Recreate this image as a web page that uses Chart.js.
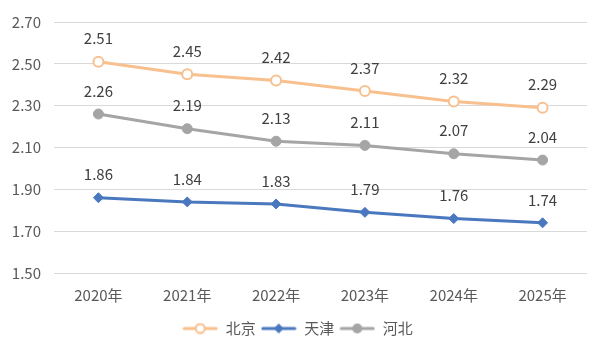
<!DOCTYPE html>
<html>
<head>
<meta charset="utf-8">
<script src="https://cdn.jsdelivr.net/npm/chart.js@4/dist/chart.umd.min.js"></script>
<style>
  html, body { margin: 0; padding: 0; background: #fff; }
  #wrap { width: 606px; height: 358px; }
</style>
</head>
<body>
<div id="wrap"><canvas id="lineChart"></canvas></div>
<script>
// data
const years = ['2020年', '2021年', '2022年', '2023年', '2024年', '2025年'];
const beijing = [2.51, 2.45, 2.42, 2.37, 2.32, 2.29];
const tianjin = [1.86, 1.84, 1.83, 1.79, 1.76, 1.74];
const hebei = [2.26, 2.19, 2.13, 2.11, 2.07, 2.04];
const yTicks = [1.50, 1.70, 1.90, 2.10, 2.30, 2.50, 2.70];

const fontFamily = "'Noto Sans CJK SC', 'Liberation Sans', sans-serif";

// small legend picture: a line with the marker in the middle
function legendIcon(color, kind) {
    const c = document.createElement('canvas');
    c.width = 36;
    c.height = 12;
    const g = c.getContext('2d');
    g.strokeStyle = color;
    g.lineWidth = 3;
    g.lineCap = 'round';
    g.beginPath();
    g.moveTo(2, 6);
    g.lineTo(34, 6);
    g.stroke();
    if (kind === 'open') {
        g.fillStyle = '#fff';
        g.lineWidth = 2;
        g.beginPath();
        g.arc(18, 6, 4.5, 0, Math.PI * 2);
        g.fill();
        g.stroke();
    } else if (kind === 'diamond') {
        g.fillStyle = color;
        g.beginPath();
        g.moveTo(18, 1);
        g.lineTo(23, 6);
        g.lineTo(18, 11);
        g.lineTo(13, 6);
        g.closePath();
        g.fill();
    } else {
        g.fillStyle = color;
        g.beginPath();
        g.arc(18, 6, 5, 0, Math.PI * 2);
        g.fill();
    }
    return c;
}

const icons = [
    legendIcon('#F8C08E', 'open'),
    legendIcon('#4A78BE', 'diamond'),
    legendIcon('#A5A5A5', 'dot')
];

// numbers above each point
const valueLabels = {
    id: 'valueLabels',
    afterDatasetsDraw(chart) {
        const ctx = chart.ctx;
        ctx.save();
        ctx.font = '15px ' + fontFamily;
        ctx.fillStyle = '#404040';
        ctx.textAlign = 'center';
        ctx.textBaseline = 'middle';
        chart.data.datasets.forEach((ds, i) => {
            chart.getDatasetMeta(i).data.forEach((pt, j) => {
                ctx.fillText(ds.data[j].toFixed(2), pt.x, pt.y - 23);
            });
        });
        ctx.restore();
    }
};

new Chart(document.getElementById('lineChart'), {
    type: 'line',
    data: {
        labels: years,
        datasets: [
            {
                label: '北京',
                data: beijing,
                borderColor: '#F8C08E',
                backgroundColor: '#fff',
                borderWidth: 3,
                pointStyle: 'circle',
                pointRadius: 5,
                pointBorderWidth: 2,
                pointBackgroundColor: '#fff',
                pointBorderColor: '#F8C08E'
            },
            {
                label: '天津',
                data: tianjin,
                borderColor: '#4A78BE',
                backgroundColor: '#4A78BE',
                borderWidth: 3,
                pointStyle: 'rectRot',
                pointRadius: 5,
                pointBorderWidth: 1,
                pointBackgroundColor: '#4A78BE',
                pointBorderColor: '#4A78BE'
            },
            {
                label: '河北',
                data: hebei,
                borderColor: '#A5A5A5',
                backgroundColor: '#A5A5A5',
                borderWidth: 3,
                pointStyle: 'circle',
                pointRadius: 5,
                pointBorderWidth: 1,
                pointBackgroundColor: '#A5A5A5',
                pointBorderColor: '#A5A5A5'
            }
        ]
    },
    options: {
        responsive: true,
        maintainAspectRatio: false,
        animation: false,
        layout: { padding: { top: 8, right: 19, left: 8, bottom: 12 } },
        scales: {
            x: {
                offset: true,
                grid: { display: false },
                border: { display: false },
                afterFit(axis) {
                    axis.height = 43;
                },
                ticks: {
                    color: '#595959',
                    font: { size: 15, family: fontFamily },
                    padding: 5
                }
            },
            y: {
                min: 1.5,
                max: 2.7,
                afterBuildTicks(axis) {
                    axis.ticks = yTicks.map(v => ({ value: v }));
                },
                afterFit(axis) {
                    axis.width = 46;
                },
                grid: { color: '#D9D9D9', lineWidth: 1, drawTicks: false },
                border: { display: false },
                ticks: {
                    color: '#595959',
                    font: { size: 15, family: fontFamily },
                    padding: 13,
                    callback: v => Number(v).toFixed(2)
                }
            }
        },
        plugins: {
            tooltip: { enabled: false },
            legend: {
                position: 'bottom',
                labels: {
                    usePointStyle: true,
                    pointStyleWidth: 36,
                    color: '#595959',
                    font: { size: 15, family: fontFamily },
                    padding: 5,
                    generateLabels(chart) {
                        return chart.data.datasets.map((ds, i) => ({
                            text: ds.label,
                            pointStyle: icons[i],
                            fillStyle: ds.borderColor,
                            strokeStyle: ds.borderColor,
                            lineWidth: 0,
                            fontColor: '#595959',
                            datasetIndex: i,
                            hidden: false
                        }));
                    }
                }
            }
        }
    },
    plugins: [valueLabels]
});
</script>
</body>
</html>
